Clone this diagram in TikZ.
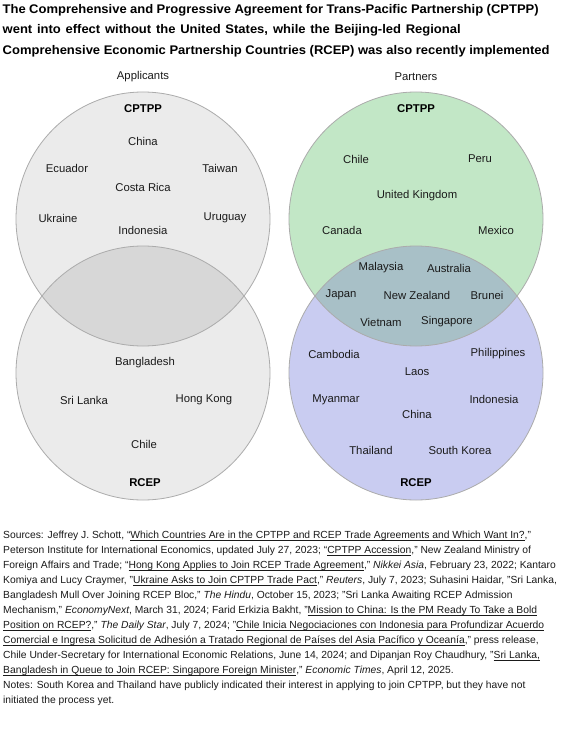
\documentclass[tikz,border=0pt]{standalone}
\usepackage{fontspec}
\setmainfont{Liberation Sans}
\newfontfamily\titlefont[FakeStretch=1.04]{Liberation Sans}
\newcommand\mylink[1]{\setbox0\hbox{#1}\rlap{\rule[-1.7pt]{\wd0}{0.5pt}}\box0}
\definecolor{grayfill}{HTML}{EBEBEB}
\definecolor{grayovl}{HTML}{D7D7D7}
\definecolor{cstroke}{HTML}{ABABAB}
\definecolor{cptppgreen}{HTML}{C2E7C6}
\definecolor{rceplav}{HTML}{C9CCF1}
\definecolor{bothovl}{HTML}{A8C0C7}
\definecolor{txt}{HTML}{1A1A1A}
\tikzset{
  lbl/.style={font=\fontsize{11.3}{13}\selectfont, text=txt, inner sep=0pt},
  head/.style={font=\fontsize{11.3}{13}\selectfont\bfseries, text=black, inner sep=0pt},
  ttl/.style={font=\titlefont\fontsize{12.5}{18}\selectfont\bfseries, anchor=base west, inner sep=0pt},
  src/.style={font=\fontsize{10.3}{15}\selectfont, text=txt, anchor=base west, inner sep=0pt},
  circ/.style={draw=cstroke, line width=0.8pt}
}
\begin{document}
\begin{tikzpicture}[x=1pt,y=-1pt]
\useasboundingbox[fill=white] (0,0) rectangle (560,733);
% title
\node[ttl] (t1) at (2.5,13.5) {\hbox to 536pt{The Comprehensive and Progressive Agreement for Trans-Pacific Partnership (CPTPP)}};
\node[ttl] (t2) at (2.5,34) {\hbox to 458pt{went into effect without the United States, while the Beijing-led Regional}};
\node[ttl] (t3) at (2.5,54.5) {Comprehensive Economic Partnership Countries (RCEP) was also recently implemented};
% left circles
\fill[grayfill] (143,219) circle (127);
\fill[grayfill] (143,373) circle (127);
\begin{scope}
  \clip (143,219) circle (127);
  \fill[grayovl] (143,373) circle (127);
\end{scope}
\draw[circ] (143,219) circle (127);
\draw[circ] (143,373) circle (127);
% right circles
\fill[cptppgreen] (416,219) circle (127);
\fill[rceplav] (416,373) circle (127);
\begin{scope}
  \clip (416,219) circle (127);
  \fill[bothovl] (416,373) circle (127);
\end{scope}
\draw[circ] (416,219) circle (127);
\draw[circ] (416,373) circle (127);
% headers
\node[lbl] (app) at (143,77) {Applicants};
\node[lbl] (par) at (416,77) {Partners};
% left top
\node[head] (lcp) at (143,109) {CPTPP};
\node[lbl] (lchina) at (143,141) {China};
\node[lbl] (lecu) at (67,168) {Ecuador};
\node[lbl] (ltai) at (220,168) {Taiwan};
\node[lbl] (lcos) at (143,187) {Costa Rica};
\node[lbl] (lukr) at (58,218) {Ukraine};
\node[lbl] (luru) at (225,218) {Uruguay};
\node[lbl] (lind) at (143,230) {Indonesia};
% left bottom
\node[lbl] (lban) at (145,363) {Bangladesh};
\node[lbl] (lsri) at (84,400) {Sri Lanka};
\node[lbl] (lhk) at (204,400) {Hong Kong};
\node[lbl] (lchi) at (144,444) {Chile};
\node[head] (lrc) at (145,483) {RCEP};
% right top
\node[head] (rcp) at (416,109) {CPTPP};
\node[lbl] (rchi) at (356,159) {Chile};
\node[lbl] (rper) at (480,159) {Peru};
\node[lbl] (ruk) at (417,196) {United Kingdom};
\node[lbl] (rcan) at (342,230) {Canada};
\node[lbl] (rmex) at (496,230) {Mexico};
% overlap
\node[lbl] (rmal) at (381,268) {Malaysia};
\node[lbl] (raus) at (449,268) {Australia};
\node[lbl] (rjap) at (341,295) {Japan};
\node[lbl] (rnz) at (417,295) {New Zealand};
\node[lbl] (rbru) at (487,295) {Brunei};
\node[lbl] (rvie) at (381,322) {Vietnam};
\node[lbl] (rsin) at (447,322) {Singapore};
% right bottom
\node[lbl] (rcam) at (334,354) {Cambodia};
\node[lbl] (rphi) at (498,354) {Philippines};
\node[lbl] (rlao) at (417,372) {Laos};
\node[lbl] (rmya) at (336,400) {Myanmar};
\node[lbl] (rind) at (494,399) {Indonesia};
\node[lbl] (rchn) at (417,414) {China};
\node[lbl] (rtha) at (371,450) {Thailand};
\node[lbl] (rsk) at (460,450) {South Korea};
\node[head] (rrc) at (416,483) {RCEP};
% sources
\node[src] (s1) at (3,538.5) {Sources: Jeffrey J. Schott, “\mylink{Which Countries Are in the CPTPP and RCEP Trade Agreements and Which Want In?},”};
\node[src] (s2) at (3,553.5) {Peterson Institute for International Economics, updated July 27, 2023; “\mylink{CPTPP Accession},” New Zealand Ministry of};
\node[src] (s3) at (3,568.5) {Foreign Affairs and Trade; “\mylink{Hong Kong Applies to Join RCEP Trade Agreement},” \textit{Nikkei Asia}, February 23, 2022; Kantaro};
\node[src] (s4) at (3,583.5) {Komiya and Lucy Craymer, "\mylink{Ukraine Asks to Join CPTPP Trade Pact}," \textit{Reuters}, July 7, 2023; Suhasini Haidar, "Sri Lanka,};
\node[src] (s5) at (3,598.5) {Bangladesh Mull Over Joining RCEP Bloc," \textit{The Hindu}, October 15, 2023; "Sri Lanka Awaiting RCEP Admission};
\node[src] (s6) at (3,613.5) {Mechanism," \textit{EconomyNext}, March 31, 2024; Farid Erkizia Bakht, "\mylink{Mission to China: Is the PM Ready To Take a Bold}};
\node[src] (s7) at (3,628.5) {\mylink{Position on RCEP?}," \textit{The Daily Star}, July 7, 2024; "\mylink{Chile Inicia Negociaciones con Indonesia para Profundizar Acuerdo}};
\node[src] (s8) at (3,643.5) {\mylink{Comercial e Ingresa Solicitud de Adhesión a Tratado Regional de Países del Asia Pacífico y Oceanía}," press release,};
\node[src] (s9) at (3,658.5) {Chile Under-Secretary for International Economic Relations, June 14, 2024; and Dipanjan Roy Chaudhury, "\mylink{Sri Lanka,}};
\node[src] (s10) at (3,673.5) {\mylink{Bangladesh in Queue to Join RCEP: Singapore Foreign Minister}," \textit{Economic Times}, April 12, 2025.};
\node[src] (s11) at (3,688.5) {Notes: South Korea and Thailand have publicly indicated their interest in applying to join CPTPP, but they have not};
\node[src] (s12) at (3,703.5) {initiated the process yet.};
\end{tikzpicture}
\end{document}
